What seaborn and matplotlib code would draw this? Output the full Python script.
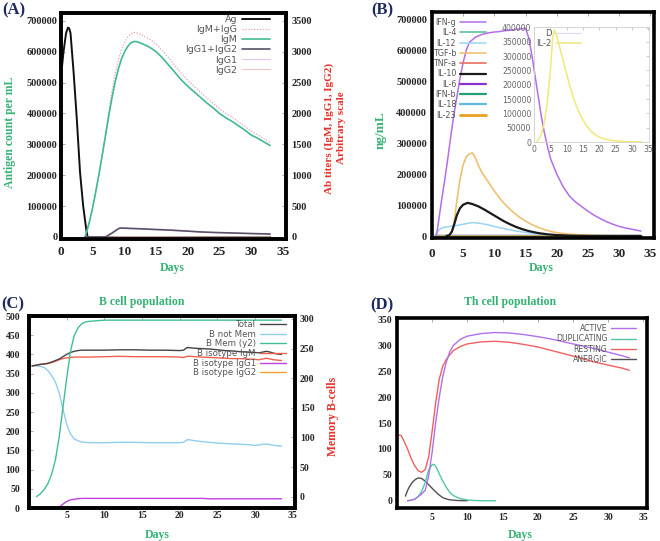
import matplotlib
matplotlib.use("Agg")
import matplotlib.pyplot as plt
import seaborn as sns

sns.set_style("white")
plt.rcParams["font.family"] = ["DejaVu Sans"]

# ======================= DATA =======================
# (A) antigen / antibody titres
ag_days = [0, 0.4, 0.8, 1.1, 1.3, 1.5, 2, 2.5, 3, 3.5, 4, 4.2, 10, 20, 33]
ag_vals = [520000, 600000, 660000, 678000, 675000, 660000, 530000, 380000, 210000, 100000, 22000, 0, 0, 0, 0]

igm_days = [3.8, 4.5, 5, 5.5, 6, 6.5, 7, 7.5, 8, 8.5, 9, 9.5, 10, 10.5, 11, 11.5, 12, 12.5, 13,
            14, 15, 16, 17, 18, 19, 20, 21, 22, 23, 24, 25, 26, 27, 28, 29, 30, 31, 32, 33]
igm_vals = [0, 250, 480, 740, 1020, 1320, 1630, 1940, 2230, 2490, 2700, 2870, 2990, 3080, 3140, 3165,
            3160, 3140, 3120, 3070, 3000, 2900, 2780, 2660, 2540, 2440, 2350, 2260, 2170, 2090, 2000,
            1930, 1870, 1800, 1730, 1650, 1600, 1540, 1480]
igmg_vals = [0, 250, 480, 740, 1020, 1320, 1630, 2000, 2330, 2620, 2840, 3020, 3140, 3230, 3290, 3310,
             3300, 3280, 3255, 3200, 3125, 3020, 2900, 2770, 2645, 2535, 2440, 2345, 2250, 2165, 2075,
             2000, 1940, 1865, 1790, 1710, 1655, 1592, 1530]

igg_days = [3.8, 7, 8, 9, 9.3, 10, 12, 14, 16, 18, 20, 22, 24, 26, 28, 30, 32, 33]
igg12_vals = [0, 0, 60, 130, 145, 143, 135, 126, 117, 107, 95, 82, 74, 68, 62, 56, 51, 48]
igg1_vals = [0, 0, 58, 126, 141, 139, 131, 122, 113, 104, 92, 80, 72, 66, 60, 54, 49, 46]
igg2_vals = [0, 0, 2, 4, 4, 4, 4, 4, 4, 3, 3, 2, 2, 2, 2, 2, 2, 2]

# (B) cytokines
ifng_days = [0.7, 1, 1.5, 2, 2.5, 3, 3.5, 4, 4.5, 5, 5.5, 6, 7, 8, 9, 10, 11, 12, 13, 14, 15, 15.5,
             16, 16.5, 17, 17.5, 18, 18.5, 19, 20, 21, 22, 23, 24, 25, 26, 27, 28, 29, 30, 31, 32, 33, 33.5]
ifng_vals = [0, 40000, 110000, 175000, 245000, 320000, 390000, 450000, 510000, 560000, 600000, 625000,
             642000, 650000, 655000, 658000, 660000, 663000, 665000, 668000, 670000, 640000, 585000,
             520000, 455000, 390000, 335000, 290000, 250000, 200000, 160000, 130000, 110000, 95000,
             80000, 67000, 56000, 46000, 38000, 31000, 26000, 22000, 18000, 16000]

tgfb_days = [3, 3.5, 4, 4.5, 5, 5.5, 6, 6.5, 7, 7.5, 8, 9, 10, 11, 12, 13, 14, 15, 16, 17, 18, 19,
             20, 21, 22, 24, 27, 30, 33.5]
tgfb_vals = [0, 40000, 115000, 185000, 230000, 255000, 265000, 268000, 250000, 225000, 205000, 175000,
             145000, 118000, 96000, 77000, 61000, 48000, 37000, 28000, 21000, 15000, 11000, 8000, 6000,
             3500, 1500, 600, 200]

il10_days = [2.3, 2.8, 3.2, 3.6, 4, 4.5, 5, 5.7, 6.5, 7.5, 8.5, 9.5, 10.5, 11.5, 12.5, 13.5, 14.5,
             15.5, 17, 18.5, 20, 22, 25, 30, 33.5]
il10_vals = [0, 3000, 15000, 40000, 68000, 90000, 101000, 107000, 103000, 95000, 84000, 72000, 60000,
             48000, 38000, 29000, 22000, 16000, 9500, 5500, 3000, 1200, 300, 0, 0]

il12_days = [0.4, 0.8, 1.2, 1.6, 2, 3, 4, 5, 6, 6.5, 7, 8, 9, 10, 11, 12, 13, 14, 15, 16, 17, 18,
             20, 22, 25, 30, 33.5]
il12_vals = [0, 12000, 21000, 26000, 28000, 31000, 34000, 38000, 42000, 43000, 42500, 40000, 36000,
             31000, 26000, 22000, 18000, 14500, 11500, 9000, 7000, 5000, 3000, 1500, 600, 100, 0]

flat_days = [0.5, 33.5]
il4_vals = [0, 0]
tnfa_vals = [0, 0]
il6_vals = [0, 0]
ifnb_vals = [0, 0]
il18_vals = [0, 0]
il23_vals = [0, 0]

# (B inset)
il2_days = [0.7, 1, 2, 3, 4, 5, 5.7, 6.2, 7, 8, 9, 10, 11, 12, 13, 14, 15, 16, 17, 18, 19, 20, 22,
            24, 27, 30, 33]
il2_vals = [0, 3000, 20000, 60000, 130000, 250000, 360000, 392000, 370000, 325000, 280000, 238000,
            195000, 158000, 125000, 99000, 77000, 58000, 44000, 32000, 23000, 17000, 9000, 5000, 2000,
            800, 300]
d_days = [0.5, 33]
d_vals = [0, 0]

# (C) B cell population
bc_days = [0.4, 1, 1.5, 2, 2.5, 3, 3.5, 4, 4.5, 5, 5.5, 6, 6.5, 7, 8, 10, 12, 14, 16, 18, 20, 20.5,
           21, 21.5, 22, 23, 24, 25, 26, 27, 28, 29, 30, 30.5, 31, 31.5, 32, 32.5, 33, 33.5]
total_vals = [370, 372, 374, 375, 377, 380, 384, 388, 394, 400, 405, 408, 410, 411, 411, 411, 412,
              412, 411, 411, 410, 411, 418, 417, 416, 415, 414, 412, 410, 409, 407, 406, 405, 404,
              406, 408, 406, 403, 401, 400]
bigm_vals = [370, 372, 374, 375, 376, 379, 382, 386, 389, 391, 392, 393, 393, 393, 393, 394, 395,
             394, 394, 394, 393, 392, 395, 395, 394, 393, 392, 391, 390, 389, 389, 388, 387, 386,
             388, 390, 388, 386, 385, 384]
bnotmem_vals = [370, 370, 369, 366, 358, 345, 328, 300, 258, 218, 193, 180, 175, 172, 170, 170, 171,
                171, 170, 170, 170, 171, 178, 177, 175, 173, 171, 169, 168, 167, 166, 165, 163, 164,
                166, 167, 165, 163, 162, 161]
bigg1_vals = [0, 0, 0, 0, 0, 0, 0, 2, 10, 17, 21, 23, 24, 25, 25, 25, 25, 25, 25, 25, 25, 25, 25,
              25, 25, 25, 24, 24, 24, 24, 24, 24, 24, 24, 24, 24, 24, 24, 24, 24]
bigg2_vals = [0] * 40
bmem_days = [1, 1.5, 2, 2.5, 3, 3.5, 4, 4.5, 5, 5.5, 6, 6.5, 7, 7.5, 8, 9, 10, 15, 20, 25, 30, 33.5]
bmem_vals = [0, 5, 12, 22, 38, 62, 100, 150, 200, 245, 272, 285, 292, 295, 296, 297, 298, 298, 298,
             298, 298, 298]

# (D) Th cell population
act_days = [1.5, 2, 2.5, 3, 3.5, 4, 4.5, 5, 5.5, 6, 6.5, 7, 7.5, 8, 9, 10, 12, 14, 16, 18, 20, 22,
            24, 26, 28, 30, 32, 33]
act_vals = [0, 1, 3, 8, 13, 20, 48, 95, 152, 200, 240, 268, 288, 300, 312, 318, 323, 325, 324, 321,
            317, 312, 306, 300, 294, 287, 280, 276]
dup_days = [1.5, 2, 2.5, 3, 3.5, 4, 4.5, 5, 5.3, 5.6, 6, 6.5, 7, 7.5, 8, 9, 10, 11, 12, 14]
dup_vals = [0, 1, 3, 8, 18, 35, 60, 70, 70, 64, 52, 38, 26, 16, 10, 4, 1.5, 0.5, 0, 0]
rest_days = [0.2, 0.6, 1, 1.5, 2, 2.5, 3, 3.5, 4, 4.5, 5, 5.5, 6, 6.5, 7, 7.5, 8, 9, 10, 12, 14, 16,
             18, 20, 22, 24, 26, 28, 30, 32, 33]
rest_vals = [127, 126, 115, 100, 82, 68, 58, 55, 60, 85, 135, 190, 235, 260, 273, 282, 290, 298, 303,
             307, 308, 306, 302, 297, 290, 283, 276, 268, 262, 256, 252]
anerg_days = [1.2, 1.5, 1.8, 2.2, 2.6, 3.0, 3.5, 4.0, 4.5, 5.0, 5.5, 6.0, 6.5, 7.0, 7.5, 8.5, 10]
anerg_vals = [9, 20, 28, 36, 41, 44, 43, 38, 31, 24, 17, 11, 6, 3.5, 1.8, 0.5, 0]

day_ticks = [0, 5, 10, 15, 20, 25, 30, 35]
day_ticks_cd = [5, 10, 15, 20, 25, 30, 35]
ag_ticks = [0, 100000, 200000, 300000, 400000, 500000, 600000, 700000]
ab_ticks = [0, 500, 1000, 1500, 2000, 2500, 3000, 3500]
inset_yticks = [0, 50000, 100000, 150000, 200000, 250000, 300000, 350000, 400000]
bcell_ticks = [0, 50, 100, 150, 200, 250, 300, 350, 400, 450, 500]
mem_ticks = [0, 50, 100, 150, 200, 250, 300]
th_ticks = [0, 50, 100, 150, 200, 250, 300, 350]

# ======================= STYLE =======================
SERIF = "Liberation Serif"
GREEN = "#35b373"
RED = "#e8302a"
NAVY = "#1c2a5e"
LEGC = "#555555"
W, H = 660, 541

fig = plt.figure(figsize=(6.6, 5.41), dpi=100)
fig.patch.set_facecolor("white")


def box(x0, y0, x1, y1):
    return [x0 / W, 1 - y1 / H, (x1 - x0) / W, (y1 - y0) / H]


def fx(x):
    return x / W


def fy(y):
    return 1 - y / H


def draw(ax, x, y, color, lw=1.0, label=None, ls="-", z=2):
    sns.lineplot(x=x, y=y, ax=ax, color=color, linewidth=lw, linestyle=ls, label=label,
                 legend=False, estimator=None, sort=False, zorder=z)


def frame(ax, lw=2.6):
    for s in ax.spines.values():
        s.set_visible(True)
        s.set_linewidth(lw)
        s.set_color("black")
    ax.tick_params(direction="in", length=3, width=0.6, color="#9a9a9a")
    ax.set_xlabel("")
    ax.set_ylabel("")


def ticks(ax, axis, vals, size, pad):
    labs = [str(v) for v in vals]
    if axis == "x":
        ax.set_xticks(vals, labs, fontfamily=SERIF, fontweight="bold", fontsize=size)
        ax.tick_params(axis="x", pad=pad)
    else:
        ax.set_yticks(vals, labs, fontfamily=SERIF, fontweight="bold", fontsize=size)
        ax.tick_params(axis="y", pad=pad)


def legend(ax, handles, labels, anchor, size, spacing, hl=3.0):
    leg = ax.legend(handles, labels, loc="upper right",
                    bbox_to_anchor=(fx(anchor[0]), fy(anchor[1])), bbox_transform=fig.transFigure,
                    frameon=False, markerfirst=False, fontsize=size, labelspacing=spacing,
                    handlelength=hl, handletextpad=0.5, borderpad=0, borderaxespad=0)
    for t in leg.get_texts():
        t.set_color(LEGC)
    leg.set_zorder(10)
    return leg


def ftext(x, y, s, color, size, rot=0, **kw):
    fig.text(fx(x), fy(y), s, color=color, fontsize=size, fontfamily=SERIF, fontweight="bold",
             rotation=rot, ha="center", va="center", **kw)


# ======================= (A) =======================
axA = fig.add_axes(box(61, 13, 286, 239))
draw(axA, ag_days, ag_vals, "#111111", 1.4, "Ag", z=3)
axA.set_xlim(0, 35.5)
axA.set_ylim(-6500, 725000)
frame(axA)
ticks(axA, "x", day_ticks, 9.5, 5)
ticks(axA, "y", ag_ticks, 7.5, 2.5)

axA2 = axA.twinx()
draw(axA2, igm_days, igmg_vals, "#e8a4a4", 0.9, "IgM+IgG", ls=(0, (1, 1.3)))
draw(axA2, igm_days, igm_vals, "#3fba92", 1.2, "IgM")
draw(axA2, igg_days, igg1_vals, "#dcc8ee", 0.8, "IgG1")
draw(axA2, igg_days, igg2_vals, "#f2c4c4", 0.8, "IgG2")
draw(axA2, igg_days, igg12_vals, "#5a5068", 1.2, "IgG1+IgG2")
axA2.set_ylim(-32.5, 3625)
frame(axA2)
ticks(axA2, "y", ab_ticks, 7.5, 4)
hA, lA = axA.get_legend_handles_labels()
hA2, lA2 = axA2.get_legend_handles_labels()
hmap = dict(zip(lA + lA2, hA + hA2))
orderA = ["Ag", "IgM+IgG", "IgM", "IgG1+IgG2", "IgG1", "IgG2"]
legend(axA2, [hmap[k] for k in orderA], orderA, (270, 15), 6.8, 0.12, hl=3.0)

ftext(14, 10, "(A)", NAVY, 12)
ftext(10, 132, "Antigen count per mL", GREEN, 8.5, rot=90)
ftext(335, 128, "Ab titers (IgM, IgG1, IgG2)\nArbitrary scale", RED, 8, rot=90,
      multialignment="center", linespacing=1.5)
ftext(172, 268, "Days", GREEN, 8.5)

# ======================= (B) =======================
axB = fig.add_axes(box(432, 12, 654, 238))
draw(axB, flat_days, il4_vals, "#5cc0a8", 1.2, "IL-4")
draw(axB, flat_days, tnfa_vals, "#e87060", 1.2, "TNF-a")
draw(axB, flat_days, il6_vals, "#8833cc", 1.6, "IL-6")
draw(axB, flat_days, ifnb_vals, "#20a070", 1.6, "IFN-b")
draw(axB, flat_days, il18_vals, "#60b8e0", 1.6, "IL-18")
draw(axB, flat_days, il23_vals, "#c8a860", 2.0, "IL-23")
draw(axB, il12_days, il12_vals, "#9ad4f2", 1.1, "IL-12")
draw(axB, tgfb_days, tgfb_vals, "#f0c070", 1.2, "TGF-b")
draw(axB, il10_days, il10_vals, "#1a1a1a", 1.6, "IL-10")
draw(axB, ifng_days, ifng_vals, "#b46ee6", 1.1, "IFN-g")
axB.set_xlim(0, 35.6)
axB.set_ylim(-6450, 722600)
frame(axB)
axB.tick_params(top=True)
ticks(axB, "x", day_ticks, 9.5, 7)
ticks(axB, "y", ag_ticks, 7.5, 3.5)
hB, lB = axB.get_legend_handles_labels()
hmapB = dict(zip(lB, hB))
orderB = ["IFN-g", "IL-4", "IL-12", "TGF-b", "TNF-a", "IL-10", "IL-6", "IFN-b", "IL-18", "IL-23"]
legB = legend(axB, [hmapB[k] for k in orderB], orderB, (486, 18), 5.8, 0.16, hl=3.2)
legB.get_lines()[orderB.index("IL-23")].set_color("#e8a020")

axI = fig.add_axes(box(534, 27, 649, 142))
axI.patch.set_alpha(0)
draw(axI, d_days, d_vals, "#ddd5f5", 0.8, "D")
draw(axI, il2_days, il2_vals, "#f0e878", 1.1, "IL-2")
axI.set_xlim(0, 35.2)
axI.set_ylim(0, 402000)
for s in axI.spines.values():
    s.set_visible(True)
    s.set_linewidth(0.6)
    s.set_color("#cfcfcf")
axI.set_xlabel("")
axI.set_ylabel("")
axI.set_xticks(day_ticks)
axI.set_yticks(inset_yticks)
axI.tick_params(direction="in", length=2.5, width=0.5, color="#bbbbbb", labelsize=5.6,
                labelcolor="#666666", pad=2, top=True, right=True)
hI, lI = axI.get_legend_handles_labels()
legend(axI, hI, lI, (581, 29), 6, 0.1, hl=3.0)

ftext(382, 10, "(B)", NAVY, 12)
ftext(381, 130, "ng/mL", GREEN, 9.5, rot=90)
ftext(541, 268, "Days", GREEN, 8.5)

# ======================= (C) =======================
axC = fig.add_axes(box(29, 316, 295, 508))
draw(axC, bc_days, bigg2_vals, "#f0a030", 1.0, "B isotype IgG2")
draw(axC, bc_days, bigg1_vals, "#c040e0", 1.0, "B isotype IgG1")
draw(axC, bc_days, bnotmem_vals, "#90cfee", 1.0, "B not Mem")
draw(axC, bc_days, bigm_vals, "#f06050", 1.0, "B isotype IgM")
draw(axC, bc_days, total_vals, "#444444", 1.0, "Total")
axC.set_xlim(0, 35.3)
axC.set_ylim(0, 500)
frame(axC)
axC.tick_params(top=True)
ticks(axC, "x", day_ticks_cd, 7, 2.5)
ticks(axC, "y", bcell_ticks, 7, 6.5)

axC2 = axC.twinx()
draw(axC2, bmem_days, bmem_vals, "#40c090", 1.0, "B Mem (y2)")
axC2.set_ylim(-19, 305)
frame(axC2)
ticks(axC2, "y", mem_ticks, 7, 3.5)
hC, lC = axC.get_legend_handles_labels()
hC2, lC2 = axC2.get_legend_handles_labels()
hmapC = dict(zip(lC + lC2, hC + hC2))
orderC = ["Total", "B not Mem", "B Mem (y2)", "B isotype IgM", "B isotype IgG1", "B isotype IgG2"]
legend(axC2, [hmapC[k] for k in orderC], orderC, (286, 320), 6.2, 0.08, hl=3.0)

ftext(13, 304, "(C)", NAVY, 12)
ftext(142, 302, "B cell population", GREEN, 8.5)
ftext(333, 416, "Memory B-cells", RED, 8.5, rot=90)
ftext(157, 535, "Days", GREEN, 8.5)

# ======================= (D) =======================
axD = fig.add_axes(box(397, 318, 647, 508))
draw(axD, anerg_days, anerg_vals, "#505050", 1.0, "ANERGIC")
draw(axD, dup_days, dup_vals, "#50c8a0", 1.0, "DUPLICATING")
draw(axD, rest_days, rest_vals, "#f06060", 1.0, "RESTING")
draw(axD, act_days, act_vals, "#b070e8", 1.0, "ACTIVE")
axD.set_xlim(0, 35.5)
axD.set_ylim(-14, 353)
frame(axD)
axD.tick_params(top=True)
ticks(axD, "x", day_ticks_cd, 7, 3.3)
ticks(axD, "y", th_ticks, 7, 3.5)
hD, lD = axD.get_legend_handles_labels()
hmapD = dict(zip(lD, hD))
orderD = ["ACTIVE", "DUPLICATING", "RESTING", "ANERGIC"]
legend(axD, [hmapD[k] for k in orderD], orderD, (636, 324), 5.6, 0.18, hl=3.2)

ftext(382, 305, "(D)", NAVY, 12)
ftext(510, 302, "Th cell population", GREEN, 8.5)
ftext(520, 535, "Days", GREEN, 8.5)

fig.savefig("out.png", dpi=100, facecolor="white")
